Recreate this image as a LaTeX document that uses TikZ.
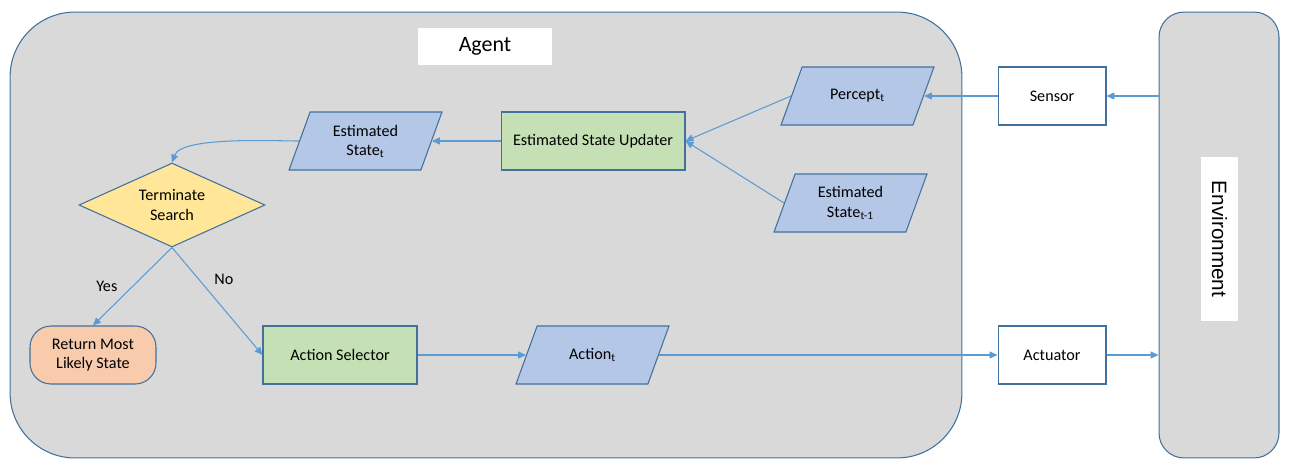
\documentclass[tikz,border=0pt]{standalone}
\usepackage{fontspec}
\setmainfont{Carlito}
\newfontfamily\envfont{Liberation Sans}
\usetikzlibrary{shapes.geometric,arrows.meta}
\definecolor{panel}{HTML}{D9D9D9}
\definecolor{edge}{HTML}{41719C}
\definecolor{link}{HTML}{5B9BD5}
\definecolor{datafill}{HTML}{B4C7E7}
\definecolor{procfill}{HTML}{C5E0B4}
\definecolor{askfill}{HTML}{FFE699}
\definecolor{endfill}{HTML}{F8CBAD}
\tikzset{
  every node/.style={font=\fontsize{9.2}{11}\selectfont, align=center},
  panelbox/.style={draw=edge, fill=panel, line width=0.6pt, minimum height=8.92cm},
  plainbox/.style={draw=edge, fill=white, line width=0.6pt, minimum width=2.16cm, minimum height=1.16cm},
  procbox/.style={draw=edge, fill=procfill, line width=0.6pt, minimum height=1.16cm},
  databox/.style={trapezium, trapezium left angle=70, trapezium right angle=110,
    trapezium stretches body, draw=edge, fill=datafill, line width=0.6pt,
    minimum width=3.06cm, inner xsep=0pt, inner ysep=0.58cm, label={center:#1}},
  askbox/.style={diamond, aspect=2.2, draw=edge, fill=askfill, line width=0.6pt, inner sep=0pt,
    minimum width=3.72cm, minimum height=1.68cm},
  endbox/.style={draw=edge, fill=endfill, line width=0.6pt, rounded corners=0.42cm,
    minimum width=2.52cm, minimum height=1.16cm},
  arr/.style={draw=link, line width=0.6pt, -{Triangle[length=4.5pt,width=4pt]}}
}
\begin{document}
\begin{tikzpicture}[x=0.02cm, y=-0.02cm]
\useasboundingbox (0,0) rectangle (1290,474);
% outer panels
\node[panelbox, minimum width=19.04cm, rounded corners=1.3cm] (agent) at (486,235) {};
\node[panelbox, minimum width=2.4cm, rounded corners=0.5cm] (env) at (1219,235) {};
\node[fill=white, minimum width=2.68cm, minimum height=0.74cm, font=\fontsize{12.5}{14}\selectfont] (agentlbl) at (485,46) {Agent};
\node[fill=white, rotate=-90, minimum width=3.28cm, minimum height=0.74cm, font=\envfont\fontsize{11.8}{14}\selectfont] (envlbl) at (1219.5,239) {Environment};
% interface
\node[plainbox] (sensor) at (1052,96) {Sensor};
\node[plainbox] (actuator) at (1052,355) {Actuator};
% inside the agent
\node[databox={Percept\textsubscript{t}}] (percept) at (857.5,96) {};
\node[databox={Estimated\\State\textsubscript{t-1}}] (prevstate) at (850.5,203) {};
\node[procbox, minimum width=3.68cm] (updater) at (593,141) {Estimated State Updater};
\node[databox={Estimated\\State\textsubscript{t}}] (curstate) at (365.5,141) {};
\node[askbox] (term) at (172,205) {Terminate\\Search};
\node[endbox] (result) at (93,355) {Return Most\\Likely State};
\node[procbox, minimum width=3.08cm] (selector) at (340,355) {Action Selector};
\node[databox={Action\textsubscript{t}}] (action) at (592.5,355) {};
% connectors
\draw[arr] (sensor -| env.west) -- (sensor.east);
\draw[arr] (sensor.west) -- (percept.east);
\draw[arr] (percept.west) -- (updater.east);
\draw[arr] (prevstate.west) -- (updater.east);
\draw[arr] (updater.west) -- (curstate.east);
\draw[arr] (curstate.west) to[out=180, in=70, looseness=0.55] (term.north);
\draw[arr] (term.south) -- (result.north) node[pos=0.5, left=5pt] {Yes};
\draw[arr] (term.south) -- (selector.west) node[pos=0.3, right=5pt] {No};
\draw[arr] (selector.east) -- (action.west);
\draw[arr] (action.east) -- (actuator.west);
\draw[arr] (actuator.east) -- (actuator -| env.west);
\end{tikzpicture}
\end{document}
